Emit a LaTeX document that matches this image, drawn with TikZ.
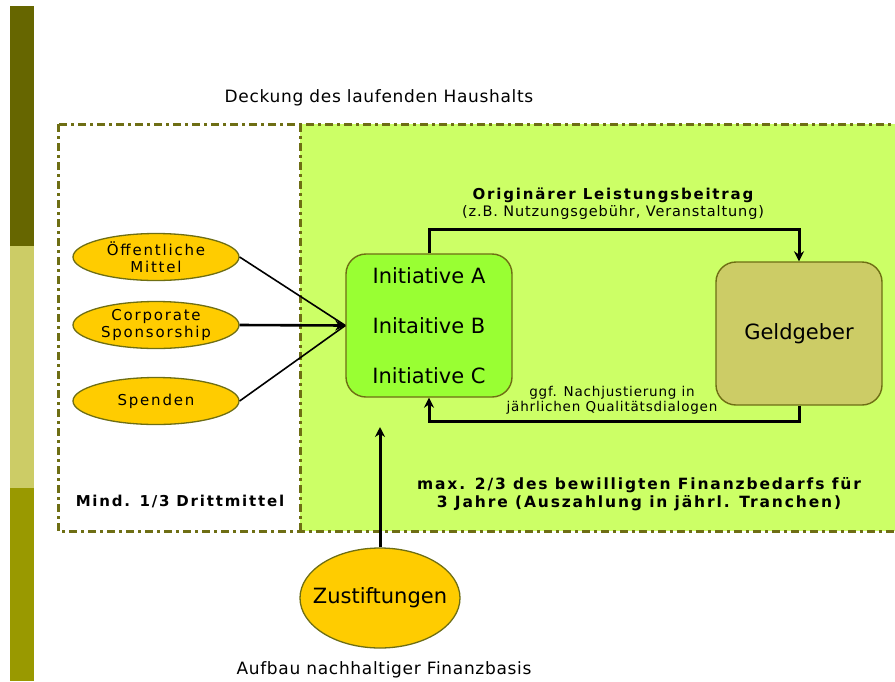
\documentclass[tikz,border=0pt]{standalone}
\usepackage{fontspec}
\setmainfont{DejaVu Sans}
\newfontfamily\widesp{DejaVu Sans}[LetterSpace=12]
\newfontfamily\midsp{DejaVu Sans}[LetterSpace=6]
\newfontfamily\lowsp{DejaVu Sans}[LetterSpace=4]
\usetikzlibrary{arrows.meta,positioning,shapes.geometric}
\definecolor{olivedark}{HTML}{666600}
\definecolor{olivelight}{HTML}{CCCC66}
\definecolor{olivemid}{HTML}{999900}
\definecolor{fundgreen}{HTML}{CCFF66}
\definecolor{initgreen}{HTML}{99FF33}
\definecolor{sourceyellow}{HTML}{FFCC00}
\definecolor{frameolive}{HTML}{6E6E14}
\newcommand{\fsz}[1]{\fontsize{#1}{#1}\selectfont}

\begin{document}
\begin{tikzpicture}[x=1pt,y=-1pt,
    source/.style={ellipse,draw=frameolive,fill=sourceyellow,line width=1.3pt,
        minimum width=166pt,minimum height=47pt,inner xsep=0pt,inner ysep=-3pt,align=center,
        font=\widesp\fsz{15}\linespread{1.12}\selectfont},
    actor/.style={rectangle,rounded corners=20pt,draw=frameolive,line width=1.4pt,
        minimum width=166pt,minimum height=143pt,align=center},
    dashdot/.style={frameolive,line width=3pt,dash pattern=on 8pt off 4pt on 3pt off 4pt},
    flow/.style={line width=3pt,-{Stealth[length=10pt,width=10pt]}},
    feed/.style={line width=1.6pt}]
\useasboundingbox (0,0) rectangle (895,681);
% side bar
\fill[olivedark] (10,6) rectangle (34,246);
\fill[olivelight] (10,246) rectangle (34,488);
\fill[olivemid] (10,488) rectangle (34,681);
% areas
\fill[fundgreen] (300,124) rectangle (900,531);
\draw[dashdot] (300,124) -- (300,531);
\draw[dashdot] (58,124) rectangle (900,531);
\node (deckung) at (379,98) {\lowsp\fsz{17}Deckung des laufenden Haushalts};
\node (aufbau) at (384,670) {\lowsp\fsz{17}Aufbau nachhaltiger Finanzbasis};
\node (mind) at (180,501) {\widesp\fsz{15}\bfseries Mind. 1/3 Drittmittel};
\node[align=center] (maxanteil) at (639,494)
    {\widesp\fsz{15.5}\bfseries max. 2/3 des bewilligten Finanzbedarfs für\\[1pt]
     \widesp\fsz{15.5}\bfseries 3 Jahre (Auszahlung in jährl. Tranchen)};
% sources
\node[source] (oeff) at (156,257) {Öffentliche\\Mittel};
\node[source] (corp) at (156,325) {Corporate\\Sponsorship};
\node[source] (spend) at (156,401) {Spenden};
\node[source,minimum width=160pt,minimum height=100pt,inner xsep=-13pt,font=\fsz{21}] (zust) at (380,598) {Zustiftungen};
% actors
\node[actor,fill=initgreen] (init) at (429,325.5)
    {\fsz{21}Initiative A\\[33pt]\fsz{21}Initaitive B\\[33pt]\fsz{21}Initiative C};
\node[actor,fill=olivelight] (geld) at (799,333.5) {\fsz{21}Geldgeber};
\node[align=center] (leistung) at (613,204)
    {\widesp\fsz{15}\bfseries Originärer Leistungsbeitrag\\[2pt]\midsp\fsz{14.5}(z.B. Nutzungsgebühr, Veranstaltung)};
\node[align=center] (dialog) at (612,400)
    {\midsp\fsz{13.5}ggf. Nachjustierung in\\[1pt]\midsp\fsz{13.5}jährlichen Qualitätsdialogen};
\coordinate (zusttip) at (380,427);
% connectors
\draw[feed] (oeff.east) -- (init.west);
\draw[feed] (spend.east) -- (init.west);
\draw[flow,line width=2.6pt] (corp.east) -- (init.west);
\draw[flow] (init.north) -- ++(0,-24) -| (geld.north);
\draw[flow] (geld.south) -- ++(0,16) -| (init.south);
\draw[flow] (zust.north) -- (zusttip);
\end{tikzpicture}
\end{document}
